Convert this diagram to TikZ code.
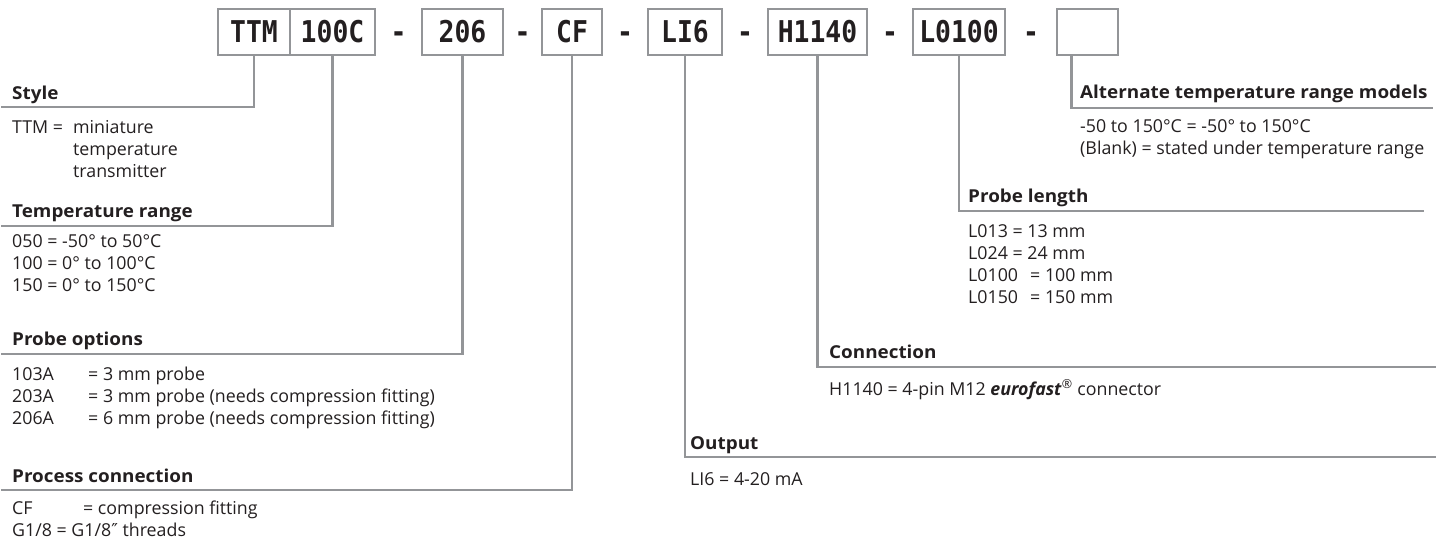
\documentclass[tikz,border=0pt]{standalone}
\usepackage{fontspec}
\setmainfont{Open Sans}[BoldFeatures={FakeStretch=1.06}]
\newfontfamily\codefont[FakeStretch=0.88]{DejaVu Sans Mono}
\newfontfamily\primefont{DejaVu Sans}
\usetikzlibrary{calc}
\definecolor{LeaderGray}{HTML}{939598}
\definecolor{CodeInk}{HTML}{231F20}

\begin{document}
\begin{tikzpicture}[x=1pt,y=-1pt,
    every node/.style={text=CodeInk,inner sep=0pt},
    codebox/.style={draw=LeaderGray,line width=2.6pt,minimum height=46pt,
      font=\codefont\bfseries\fontsize{30}{30}\selectfont},
    codedash/.style={anchor=base,font=\codefont\bfseries\fontsize{30}{30}\selectfont},
    leader/.style={draw=LeaderGray,line width=2.6pt},
    head/.style={anchor=base west,font=\bfseries\fontsize{17.8}{22}\selectfont},
    body/.style={anchor=base west,align=left,font=\fontsize{17.8}{22}\selectfont}]
  \useasboundingbox (0,0) rectangle (1439,544);

  % ordering code boxes
  \node[codebox,minimum width=72pt] (ttm) at (254,32) {TTM};
  \node[codebox,minimum width=85pt] (c100) at (332.5,32) {100C};
  \node[codebox,minimum width=81pt] (c206) at (462.5,32) {206};
  \node[codebox,minimum width=60pt] (cf) at (572,32) {CF};
  \node[codebox,minimum width=74pt] (li6) at (685,32) {LI6};
  \node[codebox,minimum width=99pt] (h1140) at (817.5,32) {H1140};
  \node[codebox,minimum width=92pt] (l0100) at (959,32) {L0100};
  \node[codebox,minimum width=61pt] (blank) at (1087.5,32) {\phantom{X}};

  \node[codedash] (d1) at ($(c100.base east)!0.5!(c206.base west)$) {-};
  \node[codedash] (d2) at ($(c206.base east)!0.5!(cf.base west)$) {-};
  \node[codedash] (d3) at ($(cf.base east)!0.5!(li6.base west)$) {-};
  \node[codedash] (d4) at ($(li6.base east)!0.5!(h1140.base west)$) {-};
  \node[codedash] (d5) at ($(h1140.base east)!0.5!(l0100.base west)$) {-};
  \node[codedash] (d6) at ($(l0100.base east)!0.5!(blank.base west)$) {-};

  % underline ends
  \coordinate (style-l) at (1,107);
  \coordinate (trange-l) at (1,226);
  \coordinate (popt-l) at (1,354);
  \coordinate (proc-l) at (1,490);
  \coordinate (out-r) at (1436,457);
  \coordinate (conn-r) at (1436,367);
  \coordinate (plen-r) at (1424,211);
  \coordinate (alt-r) at (1433,108);

  \draw[leader] (ttm.south) |- (style-l);
  \draw[leader] (c100.south) |- (trange-l);
  \draw[leader] (c206.south) |- (popt-l);
  \draw[leader] (cf.south) |- (proc-l);
  \draw[leader] (li6.south) |- (out-r);
  \draw[leader] (h1140.south) |- (conn-r);
  \draw[leader] (l0100.south) |- (plen-r);
  \draw[leader] ([xshift=-16pt]blank.south) |- (alt-r);

  % left column (body nodes sit on their last line)
  \node[head] (style) at (12,99) {Style};
  \node[body] (style-txt) at (12,177) {\makebox[61pt][l]{TTM =}miniature\\
    \hspace*{61pt}temperature\\\hspace*{61pt}transmitter};
  \node[head] (trange) at (12,217) {Temperature range};
  \node[body] (trange-txt) at (12,291) {050 = -50° to 50°C\\100 = 0° to 100°C\\150 = 0° to 150°C};
  \node[head] (popt) at (12,345) {Probe options};
  \node[body] (popt-txt) at (12,424) {\makebox[76pt][l]{103A}= 3 mm probe\\
    \makebox[76pt][l]{203A}= 3 mm probe (needs compression fitting)\\
    \makebox[76pt][l]{206A}= 6 mm probe (needs compression fitting)};
  \node[head] (proc) at (12,482) {Process connection};
  \node[body] (proc-txt) at (12,536) {\makebox[71pt][l]{CF}= compression fitting\\G1/8 = G1/8{\primefont ″} threads};

  % right column
  \node[head] (alt) at (1080,98) {Alternate temperature range models};
  \node[body] (alt-txt) at (1080,154) {-50 to 150°C = -50° to 150°C\\(Blank) = stated under temperature range};
  \node[head] (plen) at (968,202) {Probe length};
  \node[body] (plen-txt) at (968,303) {L013 = 13 mm\\L024 = 24 mm\\
    \makebox[62pt][l]{L0100}= 100 mm\\\makebox[62pt][l]{L0150}= 150 mm};
  \node[head] (conn) at (829,358) {Connection};
  \node[body] (conn-txt) at (829,395) {H1140 = 4-pin M12 \textbf{\textit{eurofast}}\textsuperscript{®} connector};
  \node[head] (out) at (690,449) {Output};
  \node[body] (out-txt) at (690,485) {LI6 = 4-20 mA};
\end{tikzpicture}
\end{document}
